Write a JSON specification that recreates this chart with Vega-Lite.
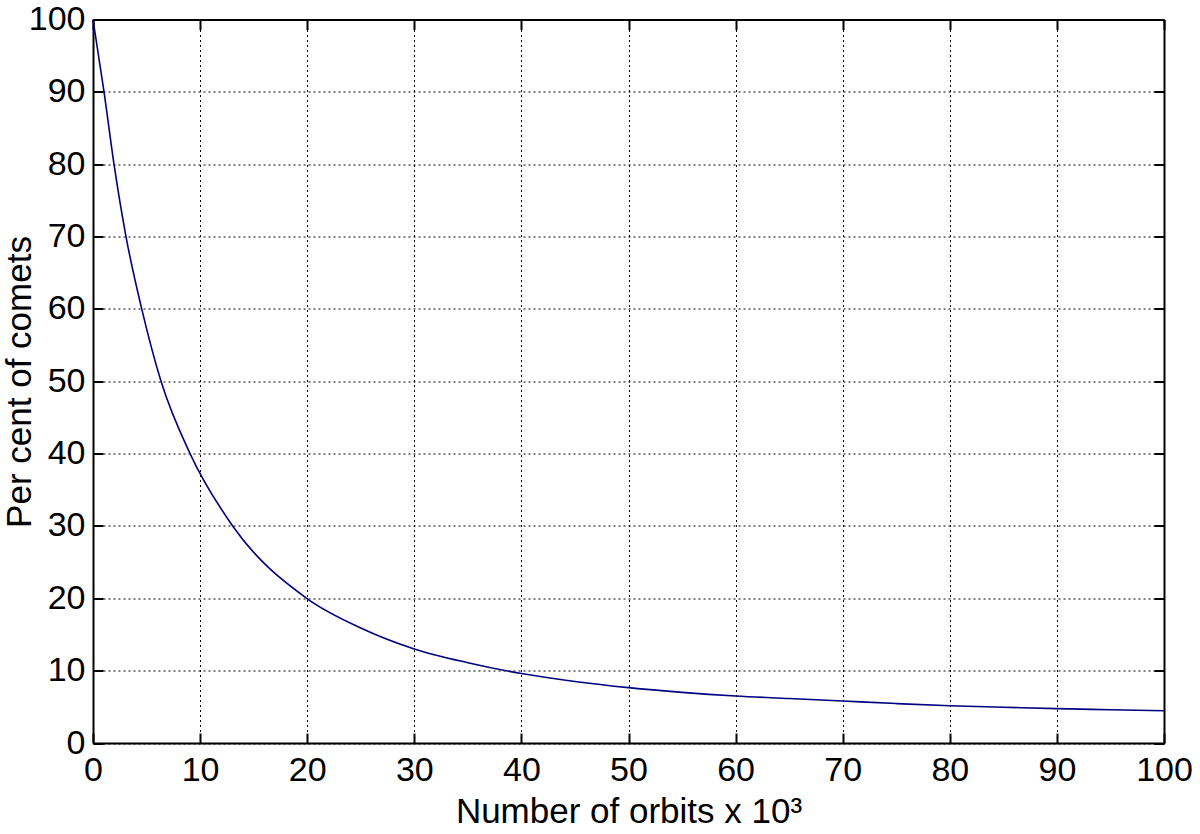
{
  "$schema": "https://vega.github.io/schema/vega-lite/v6.json",
  "autosize": {"type": "none"},
  "padding": {"left": 93, "top": 19.5, "right": 36, "bottom": 91},
  "width": 1071,
  "height": 723.5,
  "background": "white",
  "config": {
    "view": {"stroke": null},
    "font": "Liberation Sans",
    "axis": {
      "labelFont": "Liberation Sans",
      "titleFont": "Liberation Sans",
      "labelFontSize": 34,
      "titleFontSize": 35,
      "labelColor": "black",
      "titleColor": "black",
      "titleFontWeight": "normal",
      "domainColor": "black",
      "domainWidth": 2,
      "tickColor": "black",
      "tickWidth": 2,
      "tickSize": -10,
      "gridColor": "black",
      "gridDash": [2, 3],
      "gridWidth": 1,
      "gridOpacity": 1
    }
  },
  "data": {
    "values": [
      {"orbits": 0, "pct": 100},
      {"orbits": 1.03, "pct": 90},
      {"orbits": 1.96, "pct": 80},
      {"orbits": 3.08, "pct": 70},
      {"orbits": 4.55, "pct": 60},
      {"orbits": 6.35, "pct": 50},
      {"orbits": 9.06, "pct": 40},
      {"orbits": 13.04, "pct": 30},
      {"orbits": 19.95, "pct": 20},
      {"orbits": 25, "pct": 15.9},
      {"orbits": 30, "pct": 13},
      {"orbits": 35, "pct": 11.1},
      {"orbits": 40, "pct": 9.6},
      {"orbits": 45, "pct": 8.5},
      {"orbits": 50, "pct": 7.65},
      {"orbits": 55, "pct": 7.0},
      {"orbits": 60, "pct": 6.5},
      {"orbits": 65, "pct": 6.15},
      {"orbits": 70, "pct": 5.8},
      {"orbits": 75, "pct": 5.45},
      {"orbits": 80, "pct": 5.15},
      {"orbits": 85, "pct": 4.95},
      {"orbits": 90, "pct": 4.75},
      {"orbits": 95, "pct": 4.6},
      {"orbits": 100, "pct": 4.45}
    ]
  },
  "layer": [
    {
      "mark": {"type": "line", "color": "#000080", "strokeWidth": 1.6, "interpolate": "monotone"},
      "encoding": {
        "x": {
          "field": "orbits", "type": "quantitative",
          "scale": {"domain": [0, 100], "nice": false},
          "axis": {
            "orient": "bottom",
            "values": [0, 10, 20, 30, 40, 50, 60, 70, 80, 90, 100],
            "grid": true,
            "labelPadding": 20,
            "labelBaseline": "top",
            "title": "Number of orbits x 10³",
            "titleY": 79,
            "titleBaseline": "alphabetic",
            "labelFlush": false,
            "labelOverlap": false
          }
        },
        "y": {
          "field": "pct", "type": "quantitative",
          "scale": {"domain": [0, 100], "nice": false},
          "axis": {
            "orient": "left",
            "values": [0, 10, 20, 30, 40, 50, 60, 70, 80, 90, 100],
            "grid": true,
            "labelPadding": 18,
            "labelBaseline": "middle",
            "title": "Per cent of comets",
            "titleX": -74,
            "titleY": 362,
            "titleAngle": -90,
            "titleAlign": "center",
            "titleBaseline": "middle",
            "labelFlush": false,
            "labelOverlap": false
          }
        }
      }
    },
    {
      "mark": {"type": "line", "strokeOpacity": 0},
      "encoding": {
        "x": {
          "field": "orbits", "type": "quantitative",
          "scale": {"domain": [0, 100], "nice": false},
          "axis": {
            "orient": "top",
            "values": [0, 10, 20, 30, 40, 50, 60, 70, 80, 90, 100],
            "grid": false,
            "labels": false,
            "title": null
          }
        },
        "y": {
          "field": "pct", "type": "quantitative",
          "scale": {"domain": [0, 100], "nice": false},
          "axis": {
            "orient": "right",
            "values": [0, 10, 20, 30, 40, 50, 60, 70, 80, 90, 100],
            "grid": false,
            "labels": false,
            "title": null
          }
        }
      }
    }
  ],
  "resolve": {"axis": {"x": "independent", "y": "independent"}}
}
